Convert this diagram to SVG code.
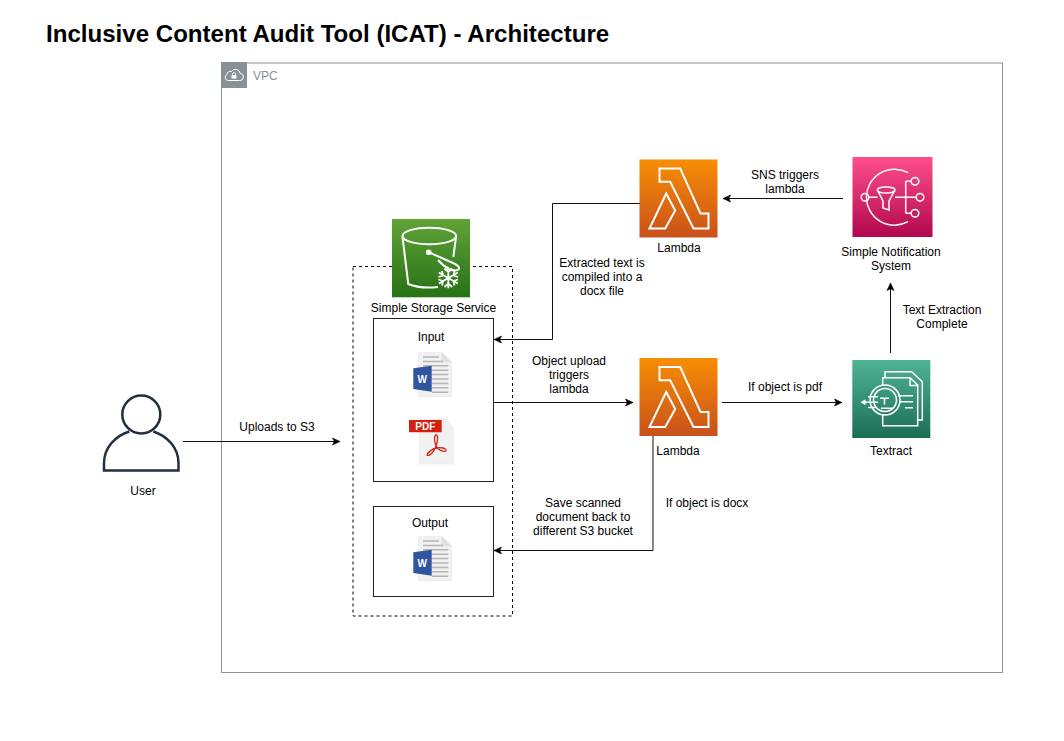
<svg xmlns="http://www.w3.org/2000/svg" width="1064" height="741" viewBox="0 0 1064 741">
<style>
text{font-family:"Liberation Sans",Arial,sans-serif;font-size:12px;fill:#000;text-anchor:middle}
.title{font-size:24.08px;font-weight:700;text-anchor:start}
.box{fill:#fff;stroke:#222;stroke-width:1}
.line{fill:none;stroke:#111;stroke-width:1}
.ico{fill:none;stroke:#fff;stroke-width:2;stroke-linejoin:miter}
.ico1{fill:none;stroke:#fff;stroke-width:1.500}
.doc{fill:#f1f1f1;stroke:#e4e4e4;stroke-width:.5}
.rule{stroke:#b5b5b5;stroke-width:1.500}
</style>
<defs>
<marker id="arr" markerUnits="userSpaceOnUse" markerWidth="9" markerHeight="9" refX="8" refY="4.500" orient="auto"><path d="M0.500,1 L8,4.500 L0.500,8 L2.300,4.500 Z" fill="#000" stroke="#000" stroke-width="0.600"/></marker>
<linearGradient id="gOrange" x1="0" y1="1" x2="0" y2="0"><stop offset="0" stop-color="#c8511b"/><stop offset="1" stop-color="#f78e04"/></linearGradient>
<linearGradient id="gGreen" x1="0" y1="1" x2="0" y2="0"><stop offset="0" stop-color="#277116"/><stop offset="1" stop-color="#60a337"/></linearGradient>
<linearGradient id="gPink" x1="0" y1="1" x2="0" y2="0"><stop offset="0" stop-color="#b0084d"/><stop offset="1" stop-color="#ff4f8b"/></linearGradient>
<linearGradient id="gTeal" x1="0" y1="1" x2="0" y2="0"><stop offset="0" stop-color="#1b6e54"/><stop offset="1" stop-color="#4fb394"/></linearGradient>
<g id="lam"><rect width="78" height="78" fill="url(#gOrange)"/><path class="ico" d="M20,9 H40.700 L61,54 H69 V69 H54 L30.700,22.300 H20 Z M26.700,34 L35.700,51 L25.700,69 H10 Z"/></g>
<g id="word"><path class="doc" d="M5.300,0.300 H28.700 L38.700,10.300 V44.700 H5.300 Z"/><path d="M28.700,0.300 V10.300 H38.700 Z" fill="#dfdfdf"/><path class="rule" d="M10,5 H26 M10,9.400 H30 M10,13.800 H35.300 M19,18.200 H35.300 M19,22.600 H35.300 M19,27 H35.300 M19,31.400 H35.300 M19,35.800 H35.300 M19,40.200 H35.300"/><path d="M0.300,16.300 L18.700,13.700 V39.700 L0.300,37 Z" fill="#2f569f"/><text x="9.300" y="31" style="font-size:10px;font-weight:700;fill:#fff">W</text></g>
</defs>

<text class="title" x="46" y="42">Inclusive Content Audit Tool (ICAT) - Architecture</text>

<g id="vpc">
<rect x="221.500" y="63" width="781" height="609.500" fill="#fff" stroke="#879196"/>
<rect x="221" y="62" width="26" height="26" fill="#879196"/>
<path d="M228.500,80.500 h11 a3.500,3.500 0 0 0 .8,-7 a5,5 0 0 0 -9,-2 a3.500,3.500 0 0 0 -4.500,3 a3.200,3.200 0 0 0 1.700,6 Z" fill="none" stroke="#fff"/>
<rect x="231.500" y="75" width="5" height="3.500" fill="#fff"/>
<path d="M232.500,75 v-1 a1.500,1.500 0 0 1 3,0 v1" fill="none" stroke="#fff" stroke-width=".8"/>
<text x="253" y="80" style="text-anchor:start;fill:#879196">VPC</text>
</g>

<g id="s3-group">
<rect x="353" y="266.500" width="159.500" height="349.500" fill="none" stroke="#000" stroke-dasharray="3 3"/>
</g>

<g id="s3">
<rect x="392" y="219" width="78" height="78.300" fill="url(#gGreen)"/>
<ellipse class="ico" cx="429.300" cy="236" rx="26.800" ry="8.300"/>
<path class="ico" d="M402.500,237 L408.300,284 Q420,289 438,287 M456,237 L453.300,257"/>
<path class="ico" d="M429,252.300 L452,262.500 Q460,266 459,269 Q456,272 449,269 Q443,266 438,260"/>
<circle cx="428.700" cy="252.300" r="2.800" fill="#fff"/>
<path d="M448.300,266.700 V288.300 M438.800,272.500 L457.800,283.500 M457.800,272.500 L438.800,283.500 M444.500,268.500 L448.300,272 L452.100,268.500 M444.500,287 L448.300,283.500 L452.100,287 M438.500,277 L443,275.500 L442,271 M458,277 L453.500,275.500 L454.500,271 M438.500,279.500 L443,281 L442,285.500 M458,279.500 L453.500,281 L454.500,285.500" fill="none" stroke="#fff" stroke-width="1.800"/>
<text x="433.500" y="312">Simple Storage Service</text>
</g>

<g id="input">
<rect class="box" x="373.500" y="318.500" width="120" height="163"/>
<text x="431" y="341">Input</text>
<use href="#word" x="413" y="352"/>
<g transform="translate(409,419)">
<path class="doc" d="M10.300,0 H37.700 L44.300,9 V45 H10.300 Z"/>
<path d="M0,1 H32.700 V13.300 H0 Z" fill="#d51f0f"/>
<text x="16.300" y="11" style="font-size:10px;font-weight:700;fill:#fff">PDF</text>
<path d="M27.500,16 C25,16 25,22 27,27 C29,31 34,33 37,32 C38,29 31,28 27,29 C23,30 18,34 18,36 C20,38 25,33 27,27 C29,21 30,17 27.500,16 Z" fill="none" stroke="#d51f0f" stroke-width="1.300"/>
</g>
</g>

<g id="output">
<rect class="box" x="373.500" y="506.500" width="120" height="90"/>
<text x="430" y="527">Output</text>
<use href="#word" x="413" y="536"/>
</g>

<g id="user">
<circle cx="141.300" cy="414.500" r="19" fill="none" stroke="#232f3e" stroke-width="2.500"/>
<path d="M129.300,431.500 C115,436 104,448 104,463 V470.500 H178.500 V463 C178.500,448 167.500,436 153.300,431.500" fill="none" stroke="#232f3e" stroke-width="2.500"/>
<text x="143" y="495">User</text>
</g>

<g id="lambda-top"><use href="#lam" x="639.500" y="159.500"/><text x="679" y="252">Lambda</text></g>
<g id="lambda-mid"><use href="#lam" x="639.500" y="358"/><text x="678" y="455">Lambda</text></g>

<g id="sns">
<rect x="852.500" y="157" width="80" height="80" fill="url(#gPink)"/>
<path class="ico1" d="M908,172.700 A28,28 0 1 0 908,221.700 M869,197.300 H877.500 M895,197.300 H916 M905.700,181.300 V213.300 M905.700,181.300 H911 M905.700,213.300 H911"/>
<circle class="ico1" cx="865" cy="197.300" r="3.800"/><circle class="ico1" cx="915" cy="181.300" r="3.800"/><circle class="ico1" cx="920" cy="197.300" r="3.800"/><circle class="ico1" cx="915" cy="213.300" r="3.800"/>
<path class="ico1" d="M877.300,190 A8.800,3 0 0 1 895,190 A8.800,3 0 0 1 877.300,190 L883,201 V208 L889,210 V201 L895,190"/>
<text x="891" y="256">Simple Notification</text><text x="891" y="270">System</text>
</g>

<g id="textract">
<rect x="852.300" y="360" width="78" height="78" fill="url(#gTeal)"/>
<path class="ico1" d="M885,377.700 V371.700 H911.700 L922.300,381.700 V420 H917.700 M882.700,386 V377.700 H910 L917.700,385 V425.700 H882.700 V414.500 M910,377.700 V385.500 H917.700"/>
<circle class="ico1" cx="885" cy="400" r="15"/><circle class="ico1" cx="885" cy="400" r="11.500"/>
<path class="ico1" d="M880,398.300 H889 M884.500,398.300 V404.500 M881,408.300 H893 M863,402.300 H878 M868,396.700 H878 M868,407.500 H876 M898,395.700 H913 M900,401.700 H913 M905,407.700 H913"/>
<path d="M860.500,402.300 L865.500,399.300 V405.300 Z" fill="#fff"/>
<text x="891" y="455">Textract</text>
</g>

<g id="connectors">
<path class="line" d="M183,441.500 H340" marker-end="url(#arr)"/>
<path class="line" d="M640,203.500 H552.500 V339.500 H494" marker-end="url(#arr)"/>
<path class="line" d="M494,402.500 H633" marker-end="url(#arr)"/>
<path class="line" d="M722,402.500 H842" marker-end="url(#arr)"/>
<path class="line" d="M653,436 V550.500 H494" marker-end="url(#arr)"/>
<path class="line" d="M890.500,353 V283" marker-end="url(#arr)"/>
<path class="line" d="M843,198.500 H723" marker-end="url(#arr)"/>
</g>

<g id="labels">
<text x="277" y="431">Uploads to S3</text>
<text x="602" y="267">Extracted text is</text><text x="602" y="281">compiled into a</text><text x="602" y="295">docx file</text>
<text x="569" y="365">Object upload</text><text x="569" y="379">triggers</text><text x="569" y="393">lambda</text>
<text x="785" y="391">If object is pdf</text>
<text x="583" y="507">Save scanned</text><text x="583" y="521">document back to</text><text x="583" y="535">different S3 bucket</text>
<text x="707" y="507">If object is docx</text>
<text x="942" y="314">Text Extraction</text><text x="942" y="328">Complete</text>
<text x="785" y="179">SNS triggers</text><text x="785" y="193">lambda</text>
</g>
</svg>
